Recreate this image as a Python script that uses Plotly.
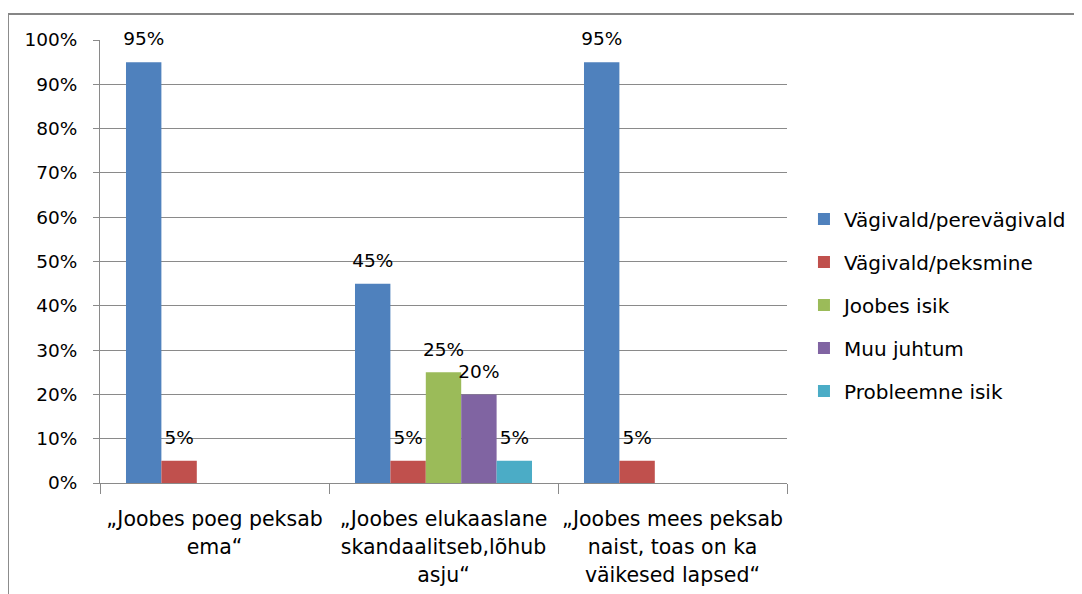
import plotly.graph_objects as go

categories = ["„Joobes poeg peksab|ema“",
              "„Joobes elukaaslane|skandaalitseb,lõhub|asju“",
              "„Joobes mees peksab|naist, toas on ka|väikesed lapsed“"]
series_names = ["Vägivald/perevägivald", "Vägivald/peksmine", "Joobes isik",
                "Muu juhtum", "Probleemne isik"]
vagivald_perevagivald = [0.95, 0.45, 0.95]
vagivald_peksmine = [0.05, 0.05, 0.05]
joobes_isik = [None, 0.25, None]
muu_juhtum = [None, 0.20, None]
probleemne_isik = [None, 0.05, None]
colors = ["#4F81BD", "#C0504D", "#9BBB59", "#8064A2", "#4BACC6"]

FONT = "DejaVu Sans, sans-serif"
all_values = [vagivald_perevagivald, vagivald_peksmine, joobes_isik, muu_juhtum, probleemne_isik]

# category labels: wrap each line in a span so the line spacing (from the base size) is wider
tick_text = ["<br>".join(f"<span style='font-size:20.5px'>{ln}</span>" for ln in c.split("|"))
             for c in categories]

fig = go.Figure()
for i, (name, vals) in enumerate(zip(series_names, all_values)):
    labels = [f"<span style='font-size:18.5px'>{v:.0%}</span><br> " if v is not None else "" for v in vals]
    fig.add_trace(go.Bar(
        x=categories, y=vals, name=name, marker=dict(color=colors[i], line=dict(width=0)),
        text=labels, textposition="outside", constraintext="none", cliponaxis=False,
        textfont=dict(family=FONT, size=9, color="black"),
        legendgroup=f"g{i}",
    ))

fig.update_layout(
    width=1074, height=586,
    margin=dict(l=92, r=295, t=32, b=111, autoexpand=False),
    paper_bgcolor="white", plot_bgcolor="white",
    barmode="group", bargap=0.227, bargroupgap=0,
    font=dict(family=FONT, size=18, color="black"),
    legend=dict(x=1.0247, y=0.64, xanchor="left", yanchor="top",
                font=dict(family=FONT, size=20), tracegroupgap=14,
                itemclick=False),
    yaxis=dict(range=[0, 1], dtick=0.1, tickformat=".0%", showgrid=True,
               gridcolor="#8A8A8A", gridwidth=1, showline=True, linecolor="#8A8A8A",
               ticks="outside", ticklen=6, tickcolor="#8A8A8A", zeroline=False,
               tickfont=dict(size=18.5), ticklabelstandoff=12),
    xaxis=dict(showline=True, linecolor="#8A8A8A", ticks="outside", ticklen=10,
               tickcolor="#8A8A8A", tickson="boundaries", tickfont=dict(size=21.5),
               tickvals=categories, ticktext=tick_text, ticklabelstandoff=16,
               tickangle=0),
    shapes=[dict(type="rect", xref="paper", yref="paper", x0=-0.134, x1=2, y0=-1, y1=1.0587,
                 line=dict(color="#868686", width=2))],
)

fig.write_html("out.html")
